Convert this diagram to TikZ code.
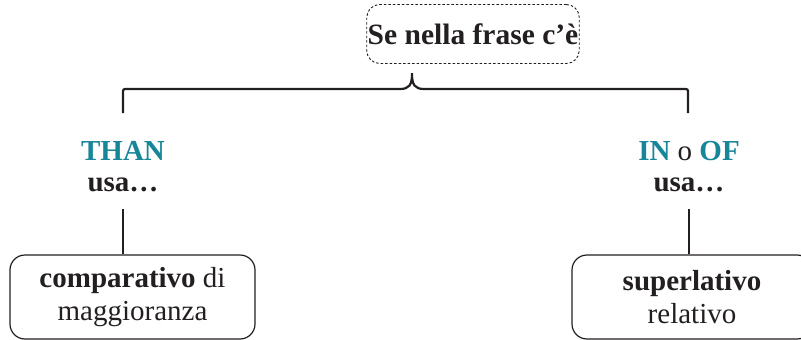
\documentclass[tikz,border=0pt]{standalone}
\usepackage{fontspec}
\setmainfont{Liberation Serif}
\usepackage{xcolor}
\usetikzlibrary{positioning, calc}
\definecolor{usteal}{RGB}{24,134,153}
\definecolor{inkdark}{RGB}{35,31,32}

\begin{document}
\begin{tikzpicture}[
    x=1pt, y=-1pt,
    font=\fontsize{29}{33}\selectfont, text=inkdark,
    headbox/.style={rectangle, draw=inkdark, dashed, dash pattern=on 2.5pt off 2pt, line width=0.9pt, rounded corners=13pt, minimum width=210pt, minimum height=59pt, inner xsep=1pt, align=center, font=\fontsize{29.5}{33}\selectfont\bfseries},
    formbox/.style={rectangle, draw=inkdark, line width=1.2pt, rounded corners=15pt, minimum height=84pt, align=center},
    cue/.style={align=center, font=\fontsize{29}{31}\selectfont\bfseries},
    link/.style={draw=inkdark, line width=2.2pt}
]
    \useasboundingbox (0,0) rectangle (801,340);
    \clip (0,0) rectangle (801,340);

    \node [headbox] (head) at (473,34) {Se nella frase c’è};

    \node [cue] (than) at (123,167) {\textcolor{usteal}{THAN}\\usa…};
    \node [cue] (inof) at (689,167) {\textcolor{usteal}{IN} {\mdseries o} \textcolor{usteal}{OF}\\usa…};

    \node [formbox, minimum width=245pt] (comp) at (132.5,297) {\textbf{comparativo} di\\maggioranza};
    \node [formbox, minimum width=240pt] (sup) at (692,297) {\textbf{superlativo}\\relativo};

    % brace under the question
    \coordinate (tip) at (412,72);
    \coordinate (lleg) at (123,113);
    \coordinate (rleg) at (688,113);
    \draw [link, rounded corners=2pt] (lleg) -- (lleg |- 0,89) -- (398,89)
        .. controls (409,89) and (412,85) .. (tip)
        .. controls (412,85) and (415,89) .. (426,89) -- (rleg |- 0,89) -- (rleg);

    \draw [link] (comp.north -| than) -- ++(0,-45);
    \draw [link] (sup.north -| inof) -- ++(0,-45);
\end{tikzpicture}
\end{document}
